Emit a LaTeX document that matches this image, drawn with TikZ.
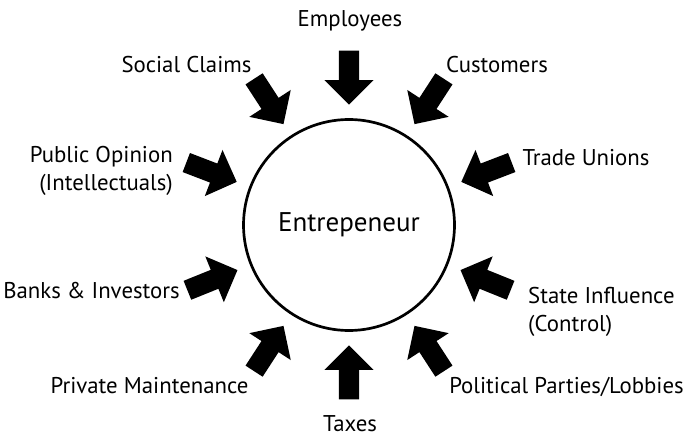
\documentclass[tikz,border=0pt]{standalone}
\usepackage{fontspec}
\setmainfont{PT Sans}
\usetikzlibrary{positioning, shapes.arrows, calc}

\begin{document}
\begin{tikzpicture}[
  x=1pt, y=1pt,
  centre/.style={circle, draw, line width=2.7pt, minimum size=211pt, inner sep=0pt,
    font=\fontsize{27}{30}\selectfont},
  blockarrow/.style={single arrow, fill=black, draw=none, inner xsep=0pt, inner ysep=10pt,
    minimum height=54pt, single arrow head extend=14.5pt, single arrow tip angle=90,
    anchor=tip},
  lbl/.style={inner sep=0pt, font=\fontsize{22.8}{28}\selectfont},
]
  \useasboundingbox (0,0) rectangle (687,437);

  % Centre
  \node[centre] (ent) at (349,212) {Entrepeneur};

  % Arrows pointing at the centre
  \foreach \a/\n in {90/emp, 57/cus, 21/tra, -22/sta, -57/pol,
                     -90/tax, -123/pri, -158/ban, 159/pub, 123/soc} {
    \node[blockarrow, rotate=\a+180] (arr\n) at ($(ent.center)+(\a:120pt)$) {};
  }

  % Labels
  \node[lbl, anchor=base] (emp) at (350,410) {Employees};
  \node[lbl, anchor=base] (soc) at (186.5,364) {Social Claims};
  \node[lbl, anchor=base] (cus) at (497,364) {Customers};
  \node[lbl, anchor=base east, align=right] (pub) at (173,247) {Public Opinion\\(Intellectuals)};
  \node[lbl, anchor=base] (tra) at (586,272) {Trade Unions};
  \node[lbl, anchor=base] (ban) at (91.5,139) {Banks \& Investors};
  \node[lbl, anchor=base west, align=left] (sta) at (528,106) {State Influence\\(Control)};
  \node[lbl, anchor=base] (pri) at (149.5,44) {Private Maintenance};
  \node[lbl, anchor=base] (pol) at (566.5,44) {Political Parties/Lobbies};
  \node[lbl, anchor=base] (tax) at (350,6) {Taxes};
\end{tikzpicture}
\end{document}
